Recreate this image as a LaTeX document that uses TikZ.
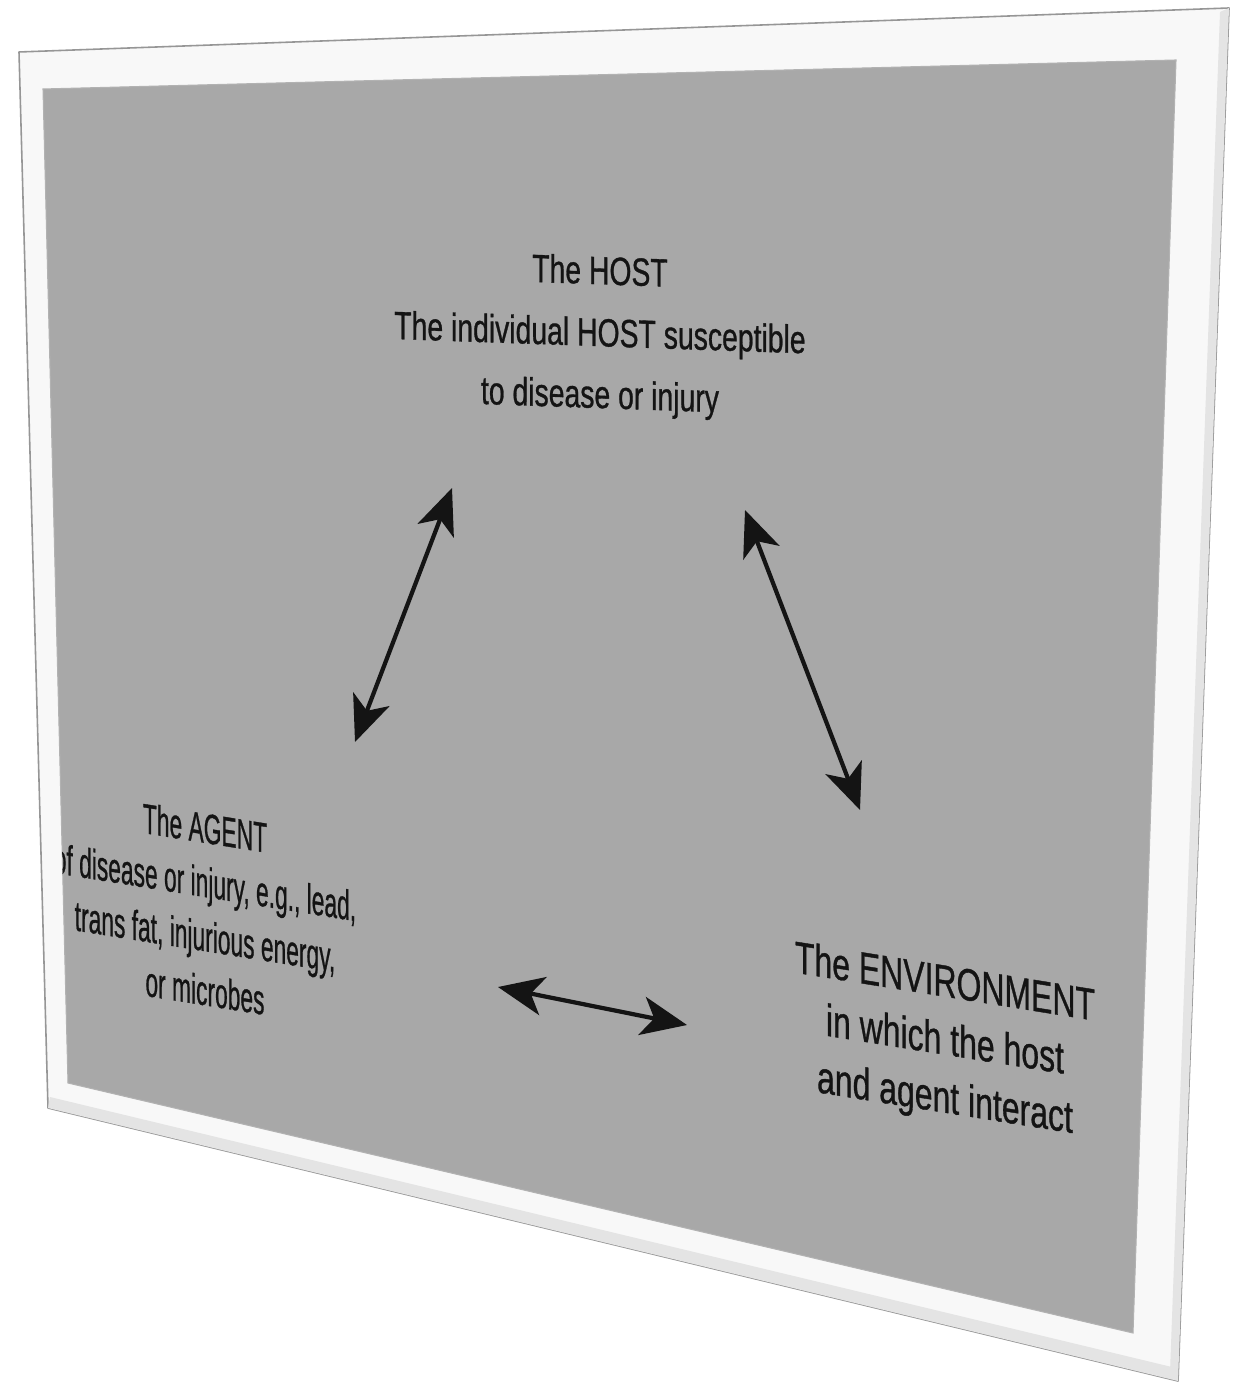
\documentclass[tikz,border=0pt]{standalone}
\usepackage{fontspec}
\setmainfont{Liberation Sans}
\newfontfamily\slidefont[FakeBold=0.9]{Liberation Sans}
\usetikzlibrary{arrows.meta}
\definecolor{slidegrey}{RGB}{168,168,168}
\definecolor{framewhite}{RGB}{248,248,248}
\definecolor{frameedge}{RGB}{150,150,150}
\definecolor{bevel}{RGB}{228,228,228}
\begin{document}
\begin{tikzpicture}[x=0.01cm,y=-0.01cm,
  txt/.style={align=center, text=black!92, inner sep=0pt, transform shape},
  dbl/.style={{Stealth[length=13pt,width=11pt,inset=3.5pt]}-{Stealth[length=13pt,width=11pt,inset=3.5pt]}, line width=1.2pt, draw=black!92}]
\useasboundingbox (0,0) rectangle (1238,1383);
\fill[white] (0,0) rectangle (1238,1383);
% outer frame
\coordinate (oTL) at (19,52);
\coordinate (oTR) at (1229,8);
\coordinate (oBR) at (1178,1381);
\coordinate (oBL) at (48,1108);
\filldraw[fill=framewhite, draw=frameedge, line width=0.45pt, line join=round]
  (oTL) -- (oTR) -- (oBR) -- (oBL) -- cycle;
% bevel shading on right and bottom of the frame
\fill[bevel] (oBL) -- (oBR) -- (1176,1368) -- (50,1097) -- cycle;
\fill[bevel] (oTR) -- (oBR) -- (1170,1372) -- (1220,12) -- cycle;
% inner slide
\coordinate (iTL) at (43,89);
\coordinate (iTR) at (1176,60);
\coordinate (iBR) at (1133,1333);
\coordinate (iBL) at (68,1083);
\fill[slidegrey] (iTL) -- (iTR) -- (iBR) -- (iBL) -- cycle;
\draw[black!30, line width=0.3pt] (iTL) -- (iTR) -- (iBR) -- (iBL) -- cycle;
\begin{scope}
\clip (iTL) -- (iTR) -- (iBR) -- (iBL) -- cycle;
\begin{scope}[shift={(600,336)}]
\node[txt, yslant=-0.035, xscale=0.72, font=\slidefont\fontsize{11.2}{17.6}\selectfont] (host) at (0,0)
  {The HOST\\The individual HOST susceptible\\to disease or injury};
\end{scope}
\begin{scope}[shift={(205,909)}]
\node[txt, yslant=-0.16, xscale=0.54, font=\slidefont\fontsize{12}{15.4}\selectfont] (agent) at (0,0)
  {The AGENT\\of disease or injury, e.g., lead,\\trans fat, injurious energy,\\or microbes};
\end{scope}
\begin{scope}[shift={(945,1043)}]
\node[txt, yslant=-0.16, xscale=0.71, font=\slidefont\fontsize{12.8}{16.5}\selectfont] (env) at (0,0)
  {The ENVIRONMENT\\in which the host\\and agent interact};
\end{scope}
\end{scope}
% arrow end points
\coordinate (ha) at (452,488);
\coordinate (ah) at (355,742);
\coordinate (he) at (745,510);
\coordinate (eh) at (860,810);
\coordinate (ae) at (498,987);
\coordinate (ea) at (687,1025);
\draw[dbl] (ah) -- (ha);
\draw[dbl] (he) -- (eh);
\draw[dbl] (ae) -- (ea);
\end{tikzpicture}
\end{document}
